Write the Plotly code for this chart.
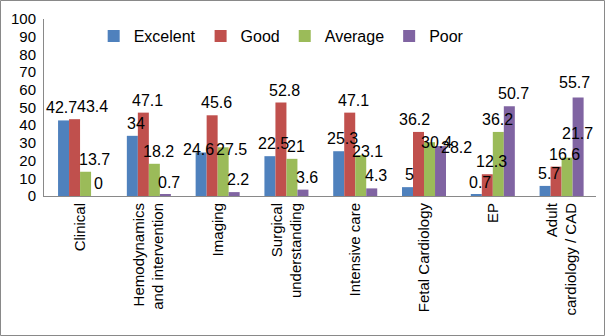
import plotly.graph_objects as go

categories = ["Clinical", "Hemodynamics<br>and intervention", "Imaging", "Surgical<br>understanding",
              "Intensive care", "Fetal Cardiology", "EP", "Adult<br>cardiology / CAD"]
excelent = [42.7, 34, 24.6, 22.5, 25.3, 5, 0.7, 5.7]
good = [43.4, 47.1, 45.6, 52.8, 47.1, 36.2, 12.3, 16.6]
average = [13.7, 18.2, 27.5, 21, 23.1, 30.4, 36.2, 21.7]
poor = [0, 0.7, 2.2, 3.6, 4.3, 28.2, 50.7, 55.7]
series_names = ["Excelent", "Good", "Average", "Poor"]
colors = ["#4F81BD", "#C0504D", "#9BBB59", "#8064A2"]
all_series = [excelent, good, average, poor]

# small manual nudges (px) of the value labels, as in the reference picture
label_dx = [
    [-6, 0, -7, 0, 0, -2, 0, 0],
    [14, 0, 0, 0, 0, -8, 0, 4],
    [5, 0, 4, 0, 3, 3, -5, 6],
    [-2, 0, 0, 0, 0, 12, 0, -8],
]
label_dy = [
    [0, 0, -10, 0, 0, 0, 0, 0],
    [0, 0, 0, 0, 0, 0, 0, 0],
    [0, 0, -15, 0, -9, -13, 0, 12],
    [0, 0, 0, 0, 0, -14, 0, 2],
]

W, H = 605, 336
ml, mr, mt, mb = 44, 9, 19, 140
pw, ph = W - ml - mr, H - mt - mb
bargap = 0.36
n_series = len(all_series)
cat_w = pw / len(categories)
bar_w = cat_w * (1 - bargap) / n_series

fig = go.Figure()
for name, vals, col in zip(series_names, all_series, colors):
    fig.add_trace(go.Bar(x=categories, y=vals, name=name,
                         marker=dict(color=col, line=dict(width=0))))

annotations = []
for j, vals in enumerate(all_series):
    for k, (cat, v) in enumerate(zip(categories, vals)):
        annotations.append(dict(
            x=cat, y=v, xref="x", yref="y", text=f"{v:g}", showarrow=False,
            xanchor="center", yanchor="bottom",
            xshift=(j - (n_series - 1) / 2) * bar_w + 4 + label_dx[j][k],
            yshift=2 + label_dy[j][k],
            font=dict(size=16, color="#000000"),
        ))

fig.update_layout(
    width=W, height=H, margin=dict(l=ml, r=mr, t=mt, b=mb, autoexpand=False),
    paper_bgcolor="white", plot_bgcolor="white",
    font=dict(family="Liberation Sans, Arial, sans-serif", size=15, color="#000000"),
    barmode="group", bargap=bargap, bargroupgap=0,
    showlegend=True,
    legend=dict(orientation="h", x=0.09, y=1.0, xanchor="left", yanchor="top",
                font=dict(size=16), bgcolor="rgba(0,0,0,0)", itemwidth=30,
                tracegroupgap=0),
    xaxis=dict(tickangle=-90, showline=True, linecolor="#898989", linewidth=1,
               ticks="", showgrid=False, tickfont=dict(size=15), automargin=False),
    yaxis=dict(range=[0, 100], dtick=10, showline=True, linecolor="#898989", linewidth=1,
               ticks="", showgrid=False, ticklabelstandoff=4,
               zeroline=False, tickfont=dict(size=15), automargin=False),
    annotations=annotations,
    shapes=[dict(type="rect", xref="paper", yref="paper",
                 x0=-(ml - 0.5) / pw, x1=(pw + mr - 0.5) / pw,
                 y0=-(mb - 0.5) / ph, y1=(ph + mt - 0.5) / ph,
                 line=dict(color="#898989", width=1), fillcolor="rgba(0,0,0,0)", layer="below")],
)

fig.write_html("out.html", config={"displayModeBar": False},
               post_script="document.body.style.margin='0';document.body.style.overflow='hidden';")
